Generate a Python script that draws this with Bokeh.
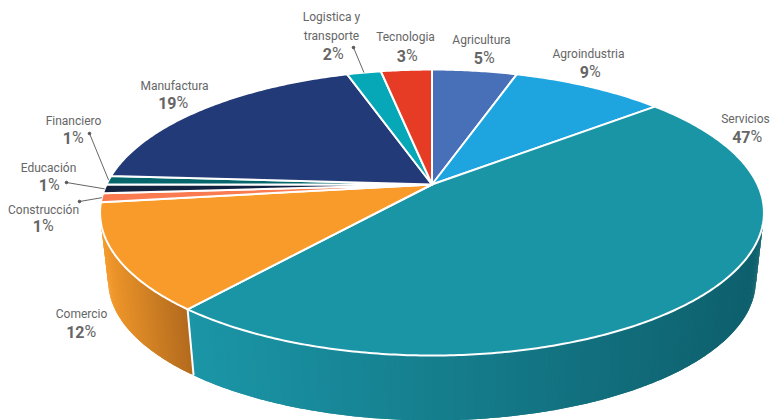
import numpy as np
from bokeh.core.properties import value
from bokeh.embed import file_html
from bokeh.models import Range1d
from bokeh.plotting import figure
from bokeh.resources import INLINE

# Share of each sector, clockwise from twelve o'clock
sectors = ["Agricultura", "Agroindustria", "Servicios", "Comercio", "Construcción",
           "Educación", "Financiero", "Manufactura", "Logistica y\ntransporte", "Tecnologia"]
shares = [5, 9, 47, 12, 1, 1, 1, 19, 2, 3]
colors = ["#4870b8", "#1ea5df", "#1a95a6", "#f99b2a", "#f97b4f",
          "#13233f", "#05676c", "#233a78", "#06a8b8", "#e63b25"]
# Wall shading for the two sectors that face the viewer
wall_shades = {2: ("#1b96a7", "#0e5f6c"), 3: ("#f49a2c", "#b26a1d")}

# Label anchors (centre of the name block and of the percentage) in page pixels
label_pos = [(481, 39, 484, 57), (588, 53, 590, 71), (745, 118, 747, 136), (81, 313, 81, 331),
             (43, 209, 43, 225), (48, 167, 49, 184), (73, 120, 73, 137), (174, 85, 173, 102),
             (331, 26, 333, 53), (405, 36, 407, 55)]
# Sectors too thin to label in place get a leader line ending at these points
leader_ends = {4: (79, 201), 5: (66, 182), 6: (89, 133), 8: (353, 47)}

# Perspective disc: apex on the page, half axes and foreshortening factor
APEX_X, APEX_Y = 431.5, 184.0
AX, AY, PERSP = 325.5, 137.5, 0.196
# Vanishing point of the vertical edges, and how far the lower rim shrinks toward it
VAN_Y, RIM_SCALE = 3004.0, 0.9755
TEXT_COLOR = "#666666"
FONT = "Roboto"


def top_point(theta):
    """Project a disc angle (radians, clockwise from the top) onto the upper face."""
    x, y = np.sin(theta), np.cos(theta)
    w = 1 + PERSP * y
    return APEX_X + AX * x / w, APEX_Y - AY * y / w


def bottom_point(theta):
    x, y = top_point(theta)
    return APEX_X + (x - APEX_X) * RIM_SCALE, VAN_Y + (y - VAN_Y) * RIM_SCALE


def mix(c1, c2, t):
    a = [int(c1[i:i + 2], 16) for i in (1, 3, 5)]
    b = [int(c2[i:i + 2], 16) for i in (1, 3, 5)]
    return "#%02x%02x%02x" % tuple(int(round(p + (q - p) * t)) for p, q in zip(a, b))


cum = np.concatenate([[0], np.cumsum(shares)]) / sum(shares) * 2 * np.pi

p = figure(width=770, height=420, output_backend="svg", toolbar_location=None,
           x_range=Range1d(0, 770), y_range=Range1d(420, 0), min_border=0,
           outline_line_color=None, background_fill_color="white",
           border_fill_color="white")
p.axis.visible = False
p.grid.visible = False

# Side wall: overlapping strips, walking the rim from the right so each covers the last seam
for i, (light, dark) in wall_shades.items():
    th = np.linspace(cum[i], cum[i + 1], shares[i] * 6)
    tx, _ = top_point(th)
    th = th[np.argmax(tx):]
    tx, ty = top_point(th)
    bx, by = bottom_point(th)
    lo, hi = tx.min(), tx.max()
    wall_xs, wall_ys, wall_cols = [], [], []
    for k in range(len(th) - 1):
        t = ((tx[k] + tx[k + 1]) / 2 - lo) / (hi - lo)
        end = min(k + 2, len(th) - 1)
        wall_xs.append(list(np.r_[tx[k:end + 1], bx[k:end + 1][::-1]]))
        wall_ys.append(list(np.r_[ty[k:end + 1], by[k:end + 1][::-1]]))
        wall_cols.append(mix(light, dark, t))
    p.patches(wall_xs, wall_ys, fill_color=wall_cols, line_color=None)

# White seam on the wall where Comercio meets Servicios
seam = cum[3]
sx, sy = top_point(seam)
ex, ey = bottom_point(seam)
p.line([sx, ex], [sy, ey], line_color="white", line_width=2)

# Upper face
for i in range(len(shares)):
    th = np.linspace(cum[i], cum[i + 1], max(3, int(shares[i] * 6)))
    ax, ay = top_point(th)
    p.patch(np.r_[APEX_X, ax], np.r_[APEX_Y, ay], fill_color=colors[i],
            line_color="white", line_width=2, line_join="round")

# Leader lines from mid-arc to the label
for i, (lx, ly) in leader_ends.items():
    mx, my = top_point((cum[i] + cum[i + 1]) / 2)
    p.line([mx, lx], [my, ly], line_color="#555555", line_width=0.9)
    p.scatter([lx], [ly], size=2.6, color="#555555")

# Sector names and percentages (bold figure, light percent sign)
for name, share, (nx, ny, vx, vy) in zip(sectors, shares, label_pos):
    p.text([nx], [ny], text=[name], text_font=value(FONT), text_font_size="12px",
           text_color=TEXT_COLOR, text_align="center", text_baseline="middle",
           text_line_height=1.3)
    digits = len(str(share))
    split = vx + (digits * 9 - 12) / 2
    p.text([split], [vy], text=[str(share)], text_font=value(FONT), text_font_size="16px",
           text_font_style="bold", text_color=TEXT_COLOR, text_align="right",
           text_baseline="middle")
    p.text([split], [vy], text=["%"], text_font=value(FONT), text_font_size="16px",
           text_color=TEXT_COLOR, text_align="left", text_baseline="middle")

open("out.html", "w").write(file_html(p, INLINE))
